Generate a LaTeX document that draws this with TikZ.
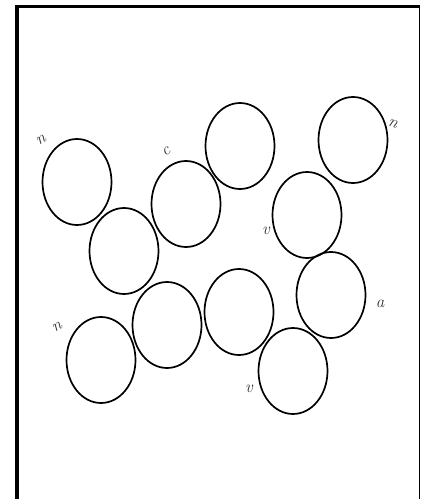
\documentclass[tikz,border=0pt]{standalone}
\usepackage{tikz}
\usetikzlibrary{shapes.geometric}
\tikzset{
  bead/.style={ellipse, draw, line width=1.7pt, minimum width=69pt, minimum height=86pt, inner sep=0pt},
  tag/.style={font=\fontsize{17}{17}\selectfont\itshape, text=black!80, inner sep=0pt},
  rim/.style={line cap=butt},
}
\begin{document}
\begin{tikzpicture}[x=1pt,y=-1pt]
\useasboundingbox (0,0) rectangle (421,499);
% frame
\draw[rim, line width=4pt] (17,499) -- (17,4.6);
\draw[rim, line width=3.2pt] (15,6.5) -- (420,6.5);
\draw[rim, line width=1pt] (419.5,5) -- (419.5,499);
% beads
\node[bead] (b1) at (77,182) {};
\node[bead] (b2) at (186,204) {};
\node[bead] (b3) at (240,146) {};
\node[bead] (b4) at (353,140) {};
\node[bead] (b5) at (307,215) {};
\node[bead] (b6) at (124,251) {};
\node[bead] (b7) at (167,325) {};
\node[bead] (b8) at (239,312) {};
\node[bead] (b9) at (331,295) {};
\node[bead] (b10) at (101,360) {};
\node[bead] (b11) at (293,371) {};
% tags
\node[tag, rotate=30] (t1) at (41,140) {n};
\node[tag, rotate=30] (t2) at (166,151) {c};
\node[tag, rotate=-20] (t3) at (393,124) {n};
\node[tag] (t4) at (266,231) {v};
\node[tag, rotate=30] (t5) at (57,327) {n};
\node[tag] (t6) at (249,389) {v};
\node[tag] (t7) at (380,304) {a};
\end{tikzpicture}
\end{document}
